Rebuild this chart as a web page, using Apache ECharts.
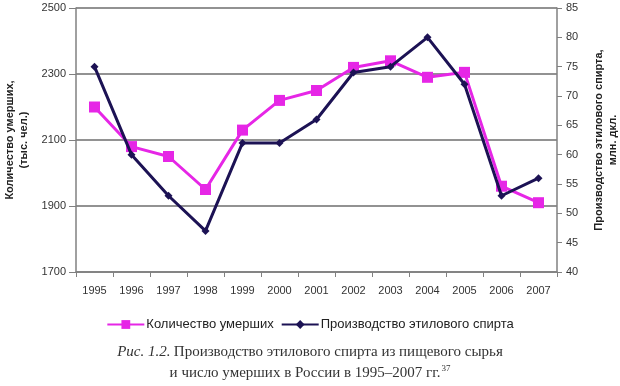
<!DOCTYPE html>
<html><head><meta charset="utf-8">
<script src="https://cdn.jsdelivr.net/npm/echarts@6/dist/echarts.min.js"></script>
<style>html,body{margin:0;padding:0;background:#fff}#c{width:620px;height:386px}</style>
</head><body><div id="c"></div>
<script>
const years = ['1995','1996','1997','1998','1999','2000','2001','2002','2003','2004','2005','2006','2007'];
const deaths = [2200, 2080, 2050, 1950, 2130, 2220, 2250, 2320, 2340, 2290, 2305, 1960, 1910];
const spirit = [75, 60, 53, 47, 62, 62, 66, 74, 75, 80, 72, 53, 56];
const deathsName = 'Количество умерших';
const spiritName = 'Производство этилового спирта';
const captionLine1 = 'Производство этилового спирта из пищевого сырья';
const captionLine2 = 'и число умерших в России в 1995–2007 гг.';

const chart = echarts.init(document.getElementById('c'), null, {renderer: 'canvas'});
const font = 'Liberation Sans, Arial, sans-serif';
const serif = 'Liberation Serif, Times New Roman, serif';
chart.setOption({
  animation: false,
  backgroundColor: '#fff',
  textStyle: {fontFamily: font},
  grid: {left: 76, right: 63, top: 8, bottom: 114, containLabel: false, outerBoundsMode: 'none'},
  xAxis: {
    type: 'category', data: years, boundaryGap: true,
    axisLine: {lineStyle: {color: '#808080', width: 1.5}},
    axisTick: {show: true, alignWithLabel: false, lineStyle: {color: '#808080'}, length: 5},
    axisLabel: {color: '#333', fontSize: 11, margin: 13, fontFamily: font}
  },
  yAxis: [{
    type: 'value', min: 1700, max: 2500, interval: 200, position: 'left',
    name: 'Количество умерших,\n(тыс. чел.)', nameLocation: 'middle', nameRotate: 90, nameGap: 36,
    nameTextStyle: {fontSize: 11, fontWeight: 'bold', color: '#222', fontFamily: font, lineHeight: 14},
    axisLine: {show: true, lineStyle: {color: '#808080', width: 1.5}},
    axisTick: {show: true, length: 7, lineStyle: {color: '#808080'}},
    axisLabel: {color: '#333', fontSize: 11, margin: 10, fontFamily: font, formatter: v => String(v)},
    splitLine: {show: true, lineStyle: {color: '#6e6e6e', width: 1.5}}
  }, {
    type: 'value', min: 40, max: 85, interval: 5, position: 'right',
    name: 'Производство этилового спирта,\nмлн. дкл.', nameLocation: 'middle', nameRotate: 90, nameGap: 35,
    nameTextStyle: {fontSize: 11, fontWeight: 'bold', color: '#222', fontFamily: font, lineHeight: 14},
    axisLine: {show: true, lineStyle: {color: '#808080', width: 1.5}},
    axisTick: {show: true, length: 5, inside: false, lineStyle: {color: '#808080'}},
    axisLabel: {color: '#333', fontSize: 11, margin: 9, fontFamily: font},
    splitLine: {show: false}
  }],
  legend: {
    top: 313, left: 'center', itemGap: 7, itemWidth: 37, itemHeight: 11,
    textStyle: {fontSize: 13, color: '#222', fontFamily: font, padding: [0, 0, 0, -3]},
    data: [deathsName, spiritName]
  },
  graphic: [{
    type: 'text', left: 'center', top: 345,
    style: {
      text: '{i|Рис. 1.2.} {n|' + captionLine1 + '}',
      rich: {
        i: {fontFamily: serif, fontStyle: 'italic', fontSize: 15, fill: '#333'},
        n: {fontFamily: serif, fontSize: 15, fill: '#333'}
      }
    }
  }, {
    type: 'text', left: 'center', top: 364,
    style: {
      text: '{n|' + captionLine2 + '}{s|37}',
      rich: {
        n: {fontFamily: serif, fontSize: 15, fill: '#333', lineHeight: 18},
        s: {fontFamily: serif, fontSize: 9, fill: '#333', lineHeight: 18, verticalAlign: 'top', padding: [0, 0, 6, 1]}
      }
    }
  }],
  series: [{
    name: deathsName, type: 'line', yAxisIndex: 0, data: deaths,
    symbol: 'rect', symbolSize: 11,
    lineStyle: {color: '#e626e6', width: 3},
    itemStyle: {color: '#e626e6'},
    z: 2
  }, {
    name: spiritName, type: 'line', yAxisIndex: 1, data: spirit,
    symbol: 'diamond', symbolSize: 8,
    lineStyle: {color: '#1c1254', width: 3},
    itemStyle: {color: '#1c1254'},
    z: 3
  }]
});
</script></body></html>
